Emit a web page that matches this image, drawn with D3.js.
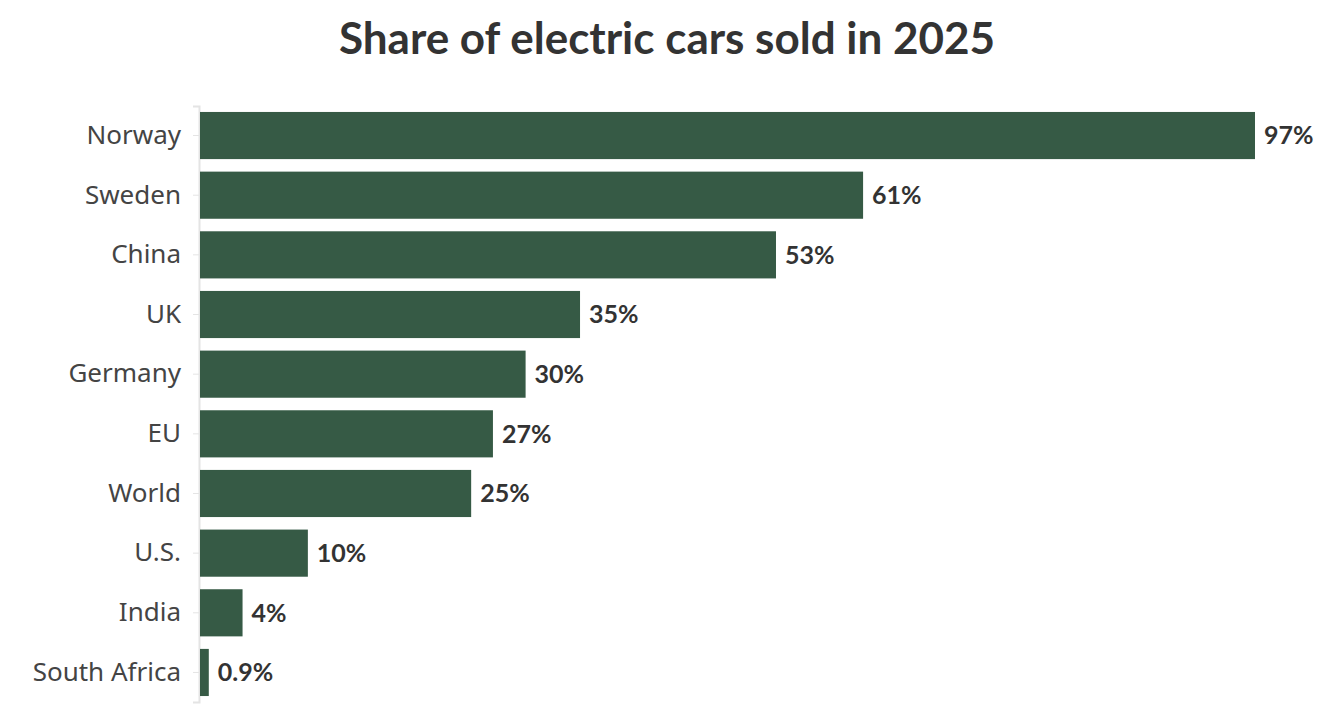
<!DOCTYPE html>
<html>
<head>
<meta charset="utf-8">
<script src="https://cdn.jsdelivr.net/npm/d3@7"></script>
<style>
  body { margin: 0; background: #fff; }
  svg { display: block; }
</style>
</head>
<body>
<svg id="chart" width="1331" height="727"></svg>
<script>
// data
var countries = ["Norway", "Sweden", "China", "UK", "Germany", "EU", "World", "U.S.", "India", "South Africa"];
var shares = [97, 61, 53, 35, 30, 27, 25, 10, 4, 0.9];
var shareLabels = ["97%", "61%", "53%", "35%", "30%", "27%", "25%", "10%", "4%", "0.9%"];

var svg = d3.select("#chart");
var margin = { top: 106, left: 199, right: 76, bottom: 25 };

var x = d3.scaleLinear()
  .domain([0, 97])
  .range([margin.left, 1255]);

var y = d3.scaleBand()
  .domain(countries)
  .range([margin.top, 727 - margin.bottom])
  .paddingInner(0.21)
  .paddingOuter(0.1);

svg.append("text")
  .attr("x", 667)
  .attr("y", 54)
  .attr("text-anchor", "middle")
  .attr("font-family", "Lato, 'Noto Sans', sans-serif")
  .attr("font-weight", "bold")
  .attr("font-size", 44)
  .attr("fill", "#333")
  .text("Share of electric cars sold in 2025");

// y axis
var yAxis = svg.append("g")
  .attr("transform", "translate(" + margin.left + ",0)")
  .call(d3.axisLeft(y).tickSize(6).tickPadding(12));
yAxis.select(".domain").attr("stroke", "#e4e4e4").attr("stroke-width", 2);
yAxis.selectAll(".tick line").attr("stroke", "#e4e4e4");
yAxis.selectAll(".tick text")
  .attr("font-family", "'Noto Sans', Lato, sans-serif")
  .attr("font-size", 26)
  .attr("fill", "#444");

var rows = countries.map(function(c, i) { return { name: c, value: shares[i], label: shareLabels[i] }; });

svg.selectAll("rect.bar")
  .data(rows)
  .enter().append("rect")
  .attr("class", "bar")
  .attr("x", x(0) + 1)
  .attr("y", d => y(d.name))
  .attr("width", d => x(d.value) - x(0) - 1)
  .attr("height", y.bandwidth())
  .attr("fill", "#365a45");

svg.selectAll("text.val")
  .data(rows)
  .enter().append("text")
  .attr("class", "val")
  .attr("x", d => x(d.value) + 9)
  .attr("y", d => y(d.name) + y.bandwidth() / 2)
  .attr("dy", "0.35em")
  .attr("font-family", "Lato, 'Noto Sans', sans-serif")
  .attr("font-weight", "bold")
  .attr("font-size", 25)
  .attr("fill", "#333")
  .text(d => d.label);
</script>
</body>
</html>
